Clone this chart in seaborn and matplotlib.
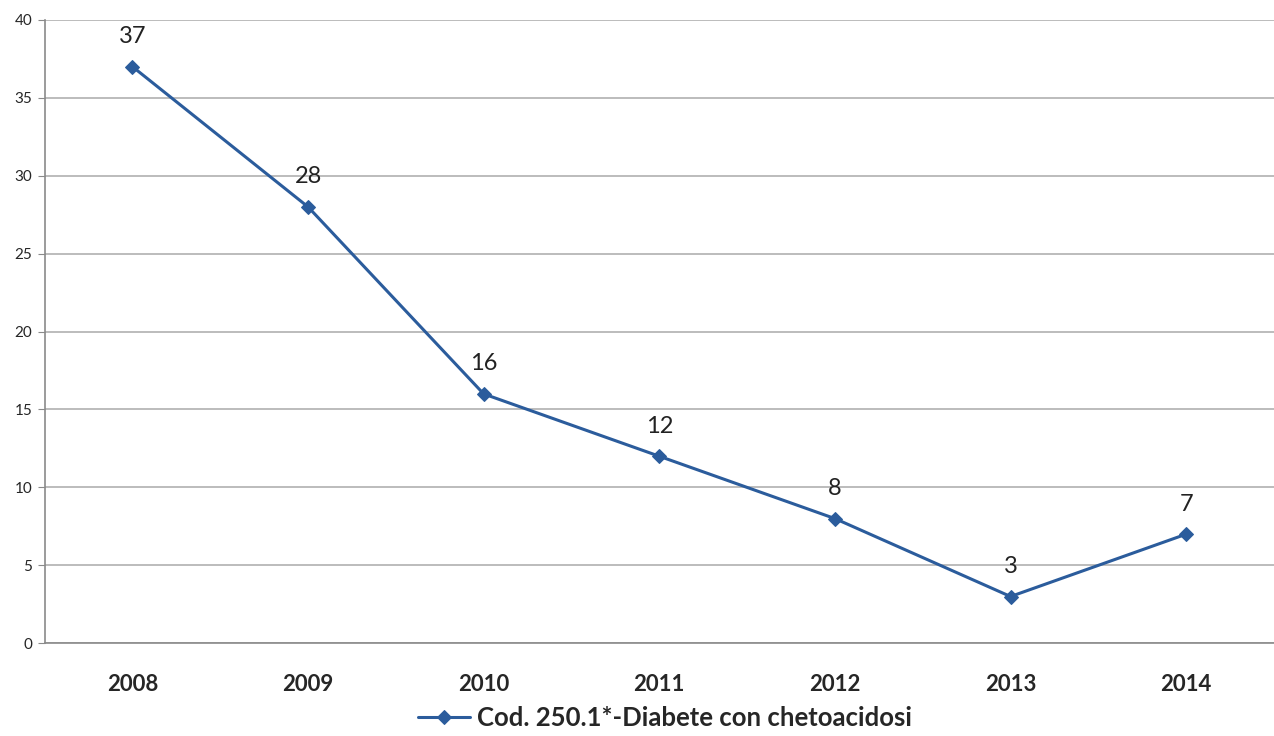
import pandas as pd
import matplotlib
matplotlib.use("Agg")
import matplotlib.pyplot as plt
import seaborn as sns

years = ["2008", "2009", "2010", "2011", "2012", "2013", "2014"]
casi = [37, 28, 16, 12, 8, 3, 7]
serie = "Cod. 250.1*-Diabete con chetoacidosi"

df = pd.DataFrame({"anno": years, "casi": casi})

sns.set_style("white")
plt.rcParams["font.family"] = ["Lato", "DejaVu Sans"]

fig = plt.figure(figsize=(12.74, 7.36), dpi=100)
ax = fig.add_axes([0.035, 0.126, 0.965, 0.847])

blu = "#2b5c9c"
sns.lineplot(data=df, x="anno", y="casi", ax=ax, color=blu, linewidth=2.2,
             marker="D", markersize=7, markeredgecolor=blu, label=serie)

for i, v in enumerate(casi):
    ax.annotate(str(v), (i, v), xytext=(0, 14), textcoords="offset points",
                ha="center", va="bottom", fontsize=17, color="#222222")

ax.set_ylim(0, 40)
ax.set_xlim(-0.48, 6.32)
ax.set_yticks(range(0, 41, 5))
ax.yaxis.grid(True, color="#b0b0b0", linewidth=1.2)
ax.set_xlabel("")
ax.set_ylabel("")
for s in ["top", "right"]:
    ax.spines[s].set_visible(False)
for s in ["left", "bottom"]:
    ax.spines[s].set_color("#8a8a8a")
    ax.spines[s].set_linewidth(1.2)

ax.set_xticks([x + 0.5 for x in range(-1, 7)], minor=True)
ax.tick_params(axis="x", which="major", length=0, pad=22, labelsize=16)
ax.tick_params(axis="x", which="minor", length=6, color="#8a8a8a", direction="out")
ax.tick_params(axis="y", length=5, color="#8a8a8a", labelsize=11, pad=4, left=True)
for t in ax.get_xticklabels():
    t.set_fontweight("bold")

ax.legend(loc="center", bbox_to_anchor=(0.505, -0.12), frameon=False,
          prop={"size": 18.5, "weight": "bold"}, handlelength=2.0, handletextpad=0.3)

fig.savefig("out.png", dpi=100)
